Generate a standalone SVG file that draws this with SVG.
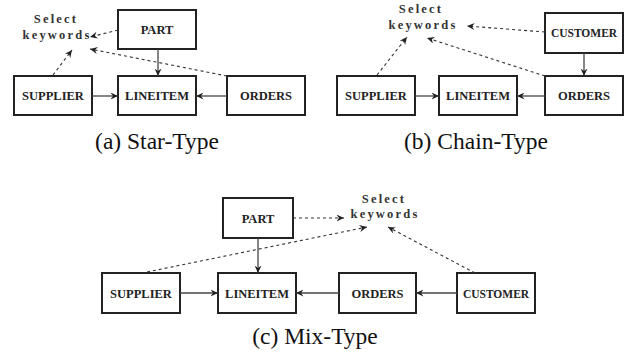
<svg xmlns="http://www.w3.org/2000/svg" width="631" height="355" viewBox="0 0 631 355" font-family="'Liberation Serif', 'DejaVu Serif', 'Times New Roman', serif">
<style>
text{font-family:'Liberation Serif','DejaVu Serif','Times New Roman',serif}
.box{fill:#fff;stroke:#222;stroke-width:2}
.lbl{font-weight:bold;font-size:12.5px;fill:#222;text-anchor:middle}
.sm{font-size:11.5px}
.kw{font-weight:bold;font-size:12.5px;fill:#333;text-anchor:middle;letter-spacing:2.2px}
.cap{font-size:23.5px;fill:#111;text-anchor:middle}
.solid{stroke:#444;stroke-width:1.3;fill:none;marker-end:url(#ah)}
.dash{stroke:#333;stroke-width:1.1;fill:none;stroke-dasharray:3 3;marker-end:url(#ah)}
</style>
<defs>
<marker id="ah" markerUnits="userSpaceOnUse" markerWidth="8" markerHeight="7" refX="7.5" refY="3.5" orient="auto">
<path d="M0,0 L7.5,3.5 L0,7 L2.5,3.5 Z" fill="#222"/>
</marker>
</defs>

<!-- Panel (a) -->
<g id="a-select"><text class="kw" x="56" y="23">Select</text><text class="kw" x="57" y="39">keywords</text></g>
<g id="a-part"><rect class="box" x="118" y="10" width="78" height="39"/><text class="lbl" x="157" y="34">PART</text></g>
<g id="a-supplier"><rect class="box" x="14" y="76" width="78" height="39"/><text class="lbl" x="53" y="100">SUPPLIER</text></g>
<g id="a-lineitem"><rect class="box" x="118" y="76" width="78" height="39"/><text class="lbl" x="157" y="100">LINEITEM</text></g>
<g id="a-orders"><rect class="box" x="227" y="76" width="78" height="39"/><text class="lbl" x="266" y="100">ORDERS</text></g>
<text class="cap" x="157" y="149">(a) Star-Type</text>

<!-- Panel (b) -->
<g id="b-select"><text class="kw" x="421" y="13">Select</text><text class="kw" x="423" y="28.5">keywords</text></g>
<g id="b-customer"><rect class="box" x="545" y="13" width="78" height="40"/><text class="lbl sm" x="584" y="37">CUSTOMER</text></g>
<g id="b-supplier"><rect class="box" x="337" y="76" width="78" height="39"/><text class="lbl" x="376" y="100">SUPPLIER</text></g>
<g id="b-lineitem"><rect class="box" x="439" y="76" width="78" height="39"/><text class="lbl" x="478" y="100">LINEITEM</text></g>
<g id="b-orders"><rect class="box" x="545" y="76" width="78" height="39"/><text class="lbl" x="584" y="100">ORDERS</text></g>
<text class="cap" x="476" y="149">(b) Chain-Type</text>

<!-- Panel (c) -->
<g id="c-select"><text class="kw" x="384" y="203">Select</text><text class="kw" x="385" y="218">keywords</text></g>
<g id="c-part"><rect class="box" x="223" y="198" width="70" height="40"/><text class="lbl" x="258" y="222.5">PART</text></g>
<g id="c-supplier"><rect class="box" x="102" y="273" width="78" height="40"/><text class="lbl" x="141" y="297.5">SUPPLIER</text></g>
<g id="c-lineitem"><rect class="box" x="218" y="273" width="78" height="40"/><text class="lbl" x="257" y="297.5">LINEITEM</text></g>
<g id="c-orders"><rect class="box" x="339" y="273" width="77" height="40"/><text class="lbl" x="377.5" y="297.5">ORDERS</text></g>
<g id="c-customer"><rect class="box" x="457" y="273" width="78" height="40"/><text class="lbl sm" x="496" y="297.5">CUSTOMER</text></g>
<text class="cap" x="315" y="344">(c) Mix-Type</text>

<g id="connectors">
<!-- a -->
<line class="solid" x1="92" y1="96" x2="118" y2="96"/>
<line class="solid" x1="227" y1="96" x2="196" y2="96"/>
<line class="solid" x1="158" y1="49" x2="158" y2="76"/>
<line class="dash" x1="118" y1="30" x2="90" y2="37"/>
<line class="dash" x1="227" y1="76" x2="90" y2="49"/>
<line class="dash" x1="53" y1="75" x2="72" y2="50"/>
<!-- b -->
<line class="solid" x1="415" y1="96" x2="439" y2="96"/>
<line class="solid" x1="545" y1="96" x2="517" y2="96"/>
<line class="solid" x1="584" y1="53" x2="584" y2="76"/>
<line class="dash" x1="545" y1="32" x2="467" y2="26"/>
<line class="dash" x1="545" y1="76" x2="427" y2="38"/>
<line class="dash" x1="377" y1="75" x2="407" y2="37"/>
<!-- c -->
<line class="solid" x1="180" y1="293" x2="218" y2="293"/>
<line class="solid" x1="339" y1="293" x2="296" y2="293"/>
<line class="solid" x1="457" y1="293" x2="416" y2="293"/>
<line class="solid" x1="258" y1="238" x2="258" y2="273"/>
<line class="dash" x1="293" y1="218" x2="344" y2="218"/>
<line class="dash" x1="147" y1="272" x2="367" y2="227"/>
<line class="dash" x1="475" y1="273" x2="388" y2="227"/>
</g>
</svg>
